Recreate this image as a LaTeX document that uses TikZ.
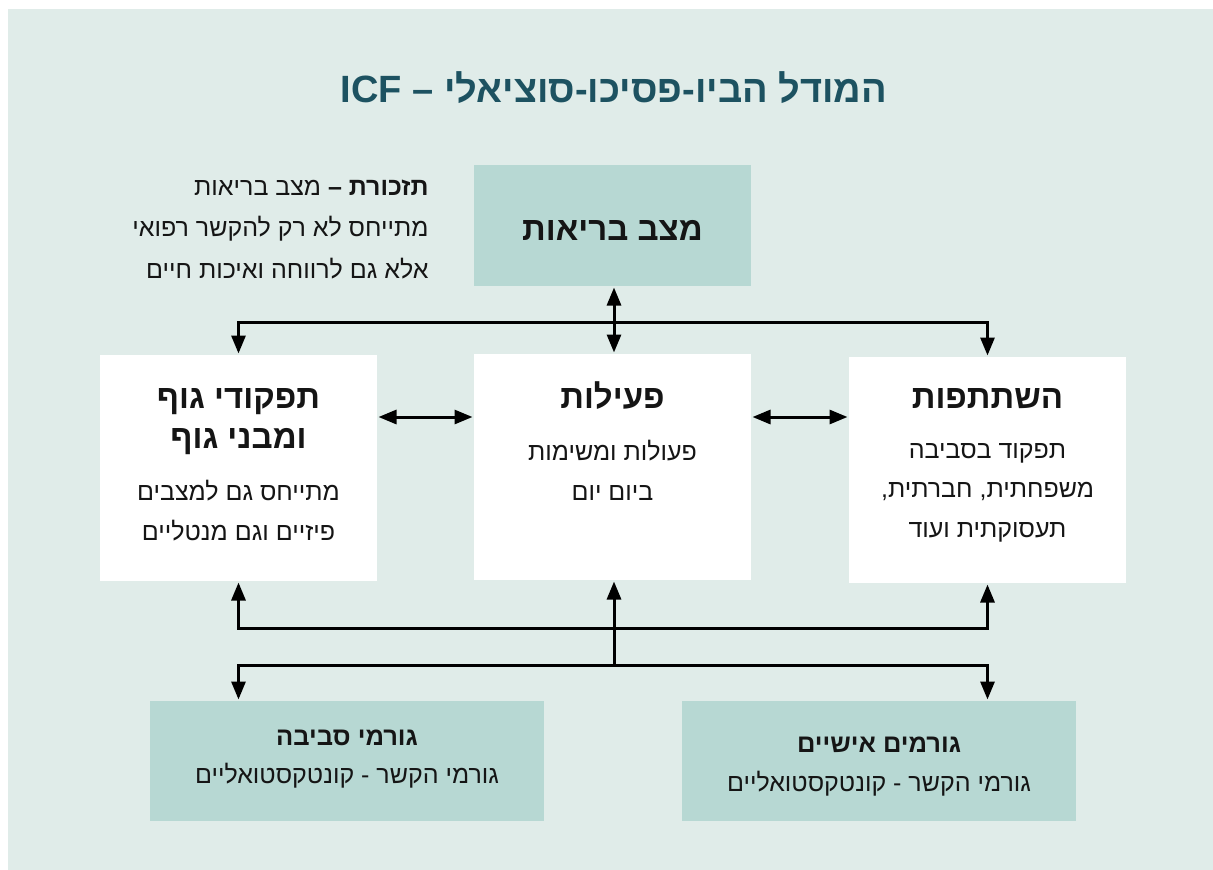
\documentclass[tikz,border=0pt]{standalone}
\usepackage{fontspec}
\usetikzlibrary{arrows.meta}
\usetikzlibrary{positioning}
\TeXXeTstate=1
\newfontfamily\hebfont[Script=Hebrew]{Liberation Sans}
\newcommand{\heb}[1]{\beginR #1\endR}
\definecolor{pagebg}{HTML}{E0ECE9}
\definecolor{boxteal}{HTML}{B7D8D3}
\definecolor{titleink}{HTML}{1D5261}
\definecolor{ink}{HTML}{151515}

\begin{document}
\begin{tikzpicture}[x=1pt,y=-1pt,line width=3pt,>={Triangle[length=18pt,width=14pt]},
  whitebox/.style={rectangle,fill=white,inner sep=0pt,minimum width=277pt,minimum height=226pt},
  tealbox/.style={rectangle,fill=boxteal,inner sep=0pt},
  titletext/.style={font=\hebfont\bfseries\fontsize{38}{46}\selectfont,text=titleink,inner sep=0pt},
  boxhead/.style={font=\hebfont\bfseries\fontsize{33}{40}\selectfont,text=ink,align=center,inner sep=0pt},
  boxtext/.style={font=\hebfont\fontsize{25}{39.5}\selectfont,text=ink,align=center,inner sep=0pt},
  smallhead/.style={font=\hebfont\bfseries\fontsize{25.5}{32}\selectfont,text=ink,inner sep=0pt}]
\useasboundingbox (0,0) rectangle (1213,870);
\fill[white] (0,0) rectangle (1213,870);
\fill[pagebg] (8,9) rectangle (1213,870);

% title and reminder (base = last line)
\node[titletext,anchor=base] (title) at (614,102) {\heb{המודל הביו-פסיכו-סוציאלי – \beginL ICF\endL}};
\node[boxtext,align=right,anchor=base east,font=\hebfont\fontsize{25}{41.5}\selectfont] (note) at (430,278)
  {\heb{\textbf{תזכורת –} מצב בריאות}\\\heb{מתייחס לא רק להקשר רפואי}\\\heb{אלא גם לרווחה ואיכות חיים}};

% boxes
\node[tealbox,minimum width=277pt,minimum height=121pt] (health) at (612.5,225.5) {};
\node[whitebox] (body) at (238.5,468) {};
\node[whitebox] (act) at (612.5,467) {};
\node[whitebox] (part) at (987.5,470) {};
\node[tealbox,minimum width=394pt,minimum height=120pt] (env) at (347,761) {};
\node[tealbox,minimum width=394pt,minimum height=120pt] (pers) at (879,761) {};

% texts in the boxes
\node[boxhead,anchor=base] (healthhead) at (612.5,240) {\heb{מצב בריאות}};
\node[boxhead,anchor=base] (bodyhead) at (238.5,448) {\heb{תפקודי גוף}\\\heb{ומבני גוף}};
\node[boxtext,anchor=base] (bodytext) at (238.5,540) {\heb{מתייחס גם למצבים}\\\heb{פיזיים וגם מנטליים}};
\node[boxhead,anchor=base] (acthead) at (612.5,408) {\heb{פעילות}};
\node[boxtext,anchor=base] (acttext) at (612.5,500) {\heb{פעולות ומשימות}\\\heb{ביום יום}};
\node[boxhead,anchor=base] (parthead) at (987.5,408) {\heb{השתתפות}};
\node[boxtext,anchor=base] (parttext) at (987.5,537) {\heb{תפקוד בסביבה}\\\heb{משפחתית, חברתית,}\\\heb{תעסוקתית ועוד}};
\node[smallhead,anchor=base] (envhead) at (347,745) {\heb{גורמי סביבה}};
\node[boxtext,anchor=base] (envtext) at (347,783) {\heb{גורמי הקשר - קונטקסטואליים}};
\node[smallhead,anchor=base] (pershead) at (879,752) {\heb{גורמים אישיים}};
\node[boxtext,anchor=base] (perstext) at (879,791) {\heb{גורמי הקשר - קונטקסטואליים}};

% connectors
\coordinate (tbus) at (614,322);
\coordinate (hrow) at (0,417);
\coordinate (bbus) at (614,628);
\coordinate (fbus) at (614,665);
\draw[<->] (health.south -| tbus) -- (act.north -| tbus);
\draw[->] (tbus) -| (body.north);
\draw[->] (tbus) -| (part.north);
\draw[<->] (body.east |- hrow) -- (act.west |- hrow);
\draw[<->] (act.east |- hrow) -- (part.west |- hrow);
\draw[->] (fbus) -- (act.south -| fbus);
\draw[->] (bbus) -| (body.south);
\draw[->] (bbus) -| (part.south);
\draw[->] (fbus) -| (env.north -| body.south);
\draw[->] (fbus) -| (pers.north -| part.south);
\end{tikzpicture}
\end{document}
